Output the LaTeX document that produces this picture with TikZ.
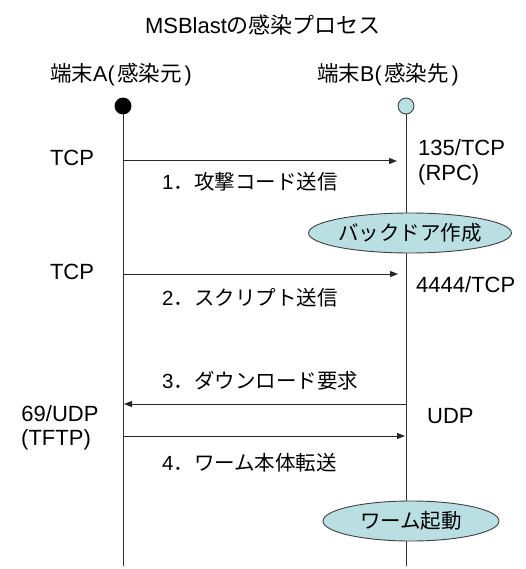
\documentclass[tikz,border=0pt]{standalone}
\usepackage{fontspec}
\setmainfont{Liberation Sans}
\newfontfamily\jp{Noto Sans CJK JP}
\usetikzlibrary{arrows.meta,shapes.geometric}
\definecolor{paleblue}{RGB}{185,223,227}
\begin{document}
\begin{tikzpicture}[x=1pt,y=-1pt,
  lat/.style={font=\fontsize{22}{27}\selectfont, inner sep=0pt, align=left},
  jpl/.style={font=\fontsize{20.5}{24}\selectfont\jp, inner sep=0pt},
  life/.style={line width=1pt, draw=black!80},
  msg/.style={line width=1pt, draw=black!85, -{Triangle[length=8pt,width=6pt]}},
  act/.style={ellipse, draw=black!75, line width=0.9pt, fill=paleblue, inner sep=0pt,
              font=\fontsize{20.5}{24}\selectfont\jp},
  pt/.style={circle, minimum size=16pt, inner sep=0pt, line width=0.9pt},
  head/.style={font=\fontsize{21.5}{25}\selectfont, inner sep=0pt, anchor=west}
]
\useasboundingbox (0,0) rectangle (526,569);

% title and headers
\node[font=\fontsize{22}{27}\selectfont, inner sep=0pt] (title) at (263,25) {MSBlast{\jp の感染プロセス}};
\node[head] (labA) at (50,75) {{\jp 端末}A(\kern2.5pt{\jp 感染元}\kern3pt)};
\node[head] (labB) at (317,75) {{\jp 端末}B(\kern2.5pt{\jp 感染先}\kern3pt)};

% lifelines
\node[pt, fill=black, draw=black] (pa) at (123,106) {};
\node[pt, fill=paleblue, draw=black!75] (pb) at (406,106) {};
\coordinate (ea) at (123,566);
\coordinate (eb) at (406,566);
\draw[life] (pa.south) -- (ea);
\draw[life] (pb.south) -- (eb);

% message 1
\coordinate (a1) at (123,161);
\coordinate (b1) at (397,161);
\draw[msg] (a1) -- (b1);
\node[lat] (tcp1) at (72,158) {TCP};
\node[jpl, anchor=west] (m1) at (162,182) {{\rmfamily 1}．攻撃コード送信};
\node[lat, anchor=west] (p1a) at (418,148) {135/TCP};
\node[lat, anchor=west] (p1b) at (418,175) {(RPC)};

% backdoor
\node[act, minimum width=190pt, minimum height=40pt] (bd) at (410,233) {バックドア作成};

% message 2
\coordinate (a2) at (123,274);
\coordinate (b2) at (398,274);
\draw[msg] (a2) -- (b2);
\node[lat] (tcp2) at (72,272) {TCP};
\node[jpl, anchor=west] (m2) at (162,298) {{\rmfamily 2}．スクリプト送信};
\node[lat, anchor=west] (p2) at (416,285) {4444/TCP};

% message 3
\coordinate (b3) at (406,404);
\coordinate (a3) at (124,404);
\draw[msg] (b3) -- (a3);
\node[jpl, anchor=west] (m3) at (162,381) {{\rmfamily 3}．ダウンロード要求};
\node[lat] (p3a) at (60,414) {69/UDP};
\node[lat] (p3b) at (56,440) {(TFTP)};
\node[lat, anchor=west] (p3c) at (427,416) {UDP};

% message 4
\coordinate (a4) at (123,436);
\coordinate (b4) at (405,436);
\draw[msg] (a4) -- (b4);
\node[jpl, anchor=west] (m4) at (162,463) {{\rmfamily 4}．ワーム本体転送};

% worm start
\node[act, minimum width=176pt, minimum height=40pt] (wk) at (411,521) {ワーム起動};
\end{tikzpicture}
\end{document}
